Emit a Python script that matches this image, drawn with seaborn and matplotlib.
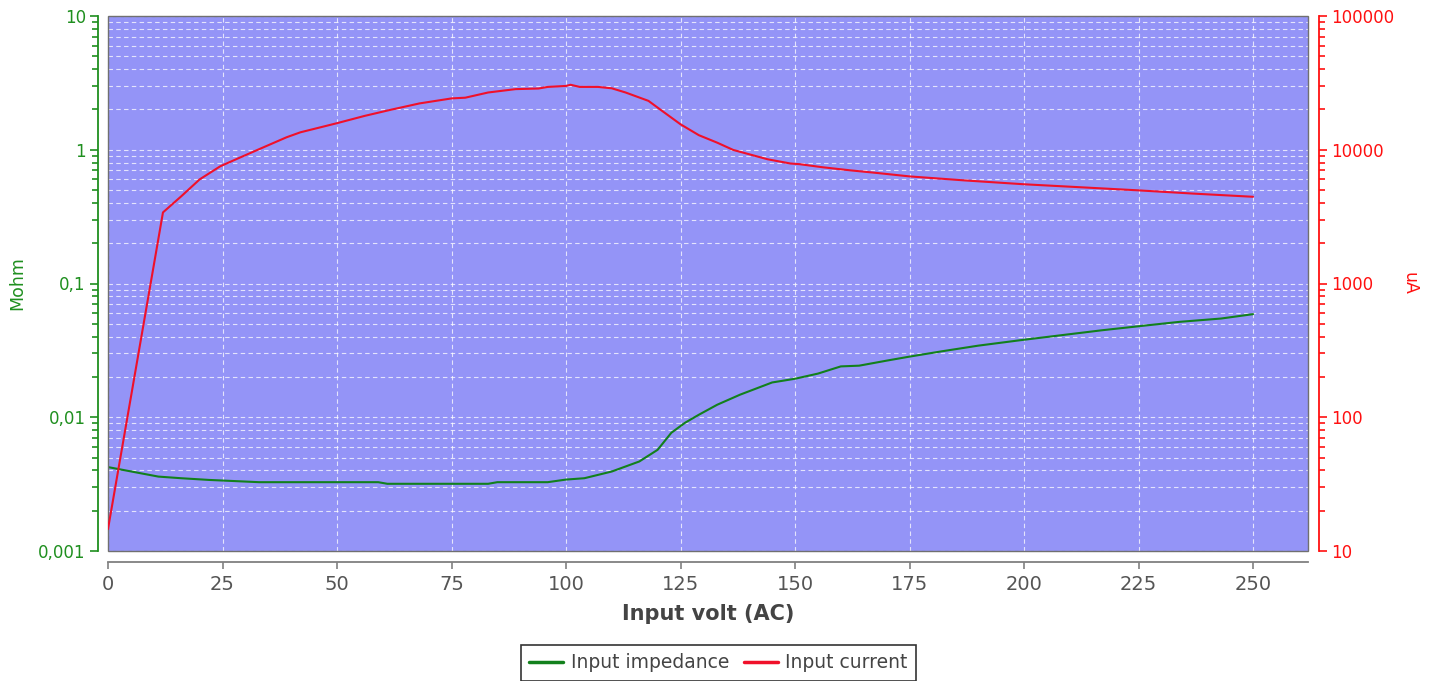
import matplotlib
matplotlib.use('Agg')
import matplotlib.pyplot as plt
import matplotlib.ticker as mticker
from matplotlib.lines import Line2D
from matplotlib.patches import Rectangle
import seaborn as sns

# -------------------------------------------------------
# Data
# -------------------------------------------------------
volt_imp = [0, 11, 16, 22, 33, 59, 61, 83, 85, 96, 100, 104, 110, 116, 120,
            123, 126, 129, 133, 138, 145, 150, 155, 160, 164, 170, 175, 182,
            190, 199, 208, 217, 225, 234, 243, 250]
imp_mohm = [0.00424, 0.0036, 0.0035, 0.0034, 0.00327, 0.00327, 0.00318,
            0.00318, 0.00327, 0.00327, 0.00342, 0.0035, 0.00393, 0.00467,
            0.00571, 0.00766, 0.0091, 0.01044, 0.0124, 0.01475, 0.0182,
            0.0194, 0.0212, 0.0240, 0.0243, 0.0265, 0.0284, 0.0311, 0.0343,
            0.0376, 0.0410, 0.0447, 0.0479, 0.0517, 0.0547, 0.0590]

volt_cur = [0, 12, 16, 20, 24.5, 28, 33, 39, 42, 50, 56, 62, 64, 68, 75, 78,
            83, 89, 94, 96, 100, 101, 103, 107, 110, 113, 118, 121, 125, 129,
            133, 136.5, 140, 144, 149, 151, 156, 162, 168, 175, 187, 200, 212,
            225, 237, 250]
cur_ua = [14.6, 3400, 4490, 6000, 7520, 8500, 10100, 12400, 13500, 15800,
          17900, 20000, 20700, 22200, 24200, 24500, 26800, 28400, 28700,
          29500, 30000, 30600, 29500, 29500, 28800, 26800, 23200, 19500,
          15500, 12850, 11300, 9970, 9250, 8490, 7890, 7800, 7400, 7020,
          6700, 6320, 5900, 5520, 5250, 4970, 4700, 4450]

x_ticks = [0, 25, 50, 75, 100, 125, 150, 175, 200, 225, 250]
left_ticks = [0.001, 0.01, 0.1, 1, 10]
left_labels = ['0,001', '0,01', '0,1', '1', '10']
right_ticks = [10, 100, 1000, 10000, 100000]
right_labels = ['10', '100', '1000', '10000', '100000']

# -------------------------------------------------------
# Style
# -------------------------------------------------------
sns.set_style('white')
plt.rcParams['font.family'] = ['DejaVu Sans']

GREEN_AX = '#1f8f1f'
GREEN_LN = '#12801c'
RED_AX = '#ff1010'
RED_LN = '#f0102a'
GRAY = '#808080'
BG = '#9494f7'

fig = plt.figure(figsize=(14.37, 6.81), dpi=100)
ax = fig.add_axes([108 / 1437, 1 - 551 / 681, 1200 / 1437, 535 / 681])
ax2 = ax.twinx()
ax.set_facecolor(BG)

sns.lineplot(x=volt_imp, y=imp_mohm, ax=ax, color=GREEN_LN, linewidth=1.5)
sns.lineplot(x=volt_cur, y=cur_ua, ax=ax2, color=RED_LN, linewidth=1.5)

# -------------------------------------------------------
# Axes scales / ticks
# -------------------------------------------------------
ax.set_xlim(0, 262)
ax.set_yscale('log')
ax.set_ylim(0.001, 10)
ax2.set_yscale('log')
ax2.set_ylim(10, 100000)

ax.xaxis.set_major_locator(mticker.FixedLocator(x_ticks))
ax.yaxis.set_major_locator(mticker.FixedLocator(left_ticks))
ax.yaxis.set_major_formatter(mticker.FixedFormatter(left_labels))
ax.yaxis.set_minor_locator(mticker.LogLocator(base=10, subs=range(2, 10)))
ax.yaxis.set_minor_formatter(mticker.NullFormatter())

ax2.yaxis.set_major_locator(mticker.FixedLocator(right_ticks))
ax2.yaxis.set_major_formatter(mticker.FixedFormatter(right_labels))
ax2.yaxis.set_minor_locator(mticker.LogLocator(base=10, subs=range(2, 10)))
ax2.yaxis.set_minor_formatter(mticker.NullFormatter())

ax.tick_params(axis='y', which='major', direction='out', length=6, width=1.2,
               color=GREEN_AX, labelcolor=GREEN_AX, labelsize=12, pad=3, left=True)
ax.tick_params(axis='y', which='minor', direction='out', length=4, width=1.2,
               color=GREEN_AX, left=True)
ax.tick_params(axis='x', which='major', direction='out', length=5, width=1.2,
               color=GRAY, labelcolor='#555555', labelsize=14, pad=4, bottom=True)
ax2.tick_params(axis='y', which='major', direction='out', length=6, width=1.2,
                color=RED_AX, labelcolor=RED_AX, labelsize=12, pad=3, right=True)
ax2.tick_params(axis='y', which='minor', direction='out', length=4, width=1.2,
                color=RED_AX, right=True)

# grid: white dashed lines
ax.grid(True, which='both', axis='y', color='white', linestyle=(0, (4, 3)),
        linewidth=0.8, alpha=0.75)
ax.grid(True, which='major', axis='x', color='white', linestyle=(0, (4, 3)),
        linewidth=0.8, alpha=0.75)

# spines: axes offset from the plot frame
for s in ['top', 'right']:
    ax.spines[s].set_visible(False)
for s in ['top', 'left', 'bottom']:
    ax2.spines[s].set_visible(False)
ax.spines['left'].set_position(('outward', 7))
ax.spines['left'].set_color(GREEN_AX)
ax.spines['left'].set_linewidth(1.3)
ax.spines['bottom'].set_position(('outward', 8))
ax.spines['bottom'].set_color(GRAY)
ax.spines['bottom'].set_linewidth(1.3)
ax2.spines['right'].set_position(('outward', 8))
ax2.spines['right'].set_color(RED_AX)
ax2.spines['right'].set_linewidth(1.3)

# plot frame
ax.add_patch(Rectangle((0, 0), 1, 1, transform=ax.transAxes, fill=False,
                       edgecolor='#707070', linewidth=1.0, clip_on=False, zorder=5))

# -------------------------------------------------------
# Labels
# -------------------------------------------------------
ax.set_xlabel('Input volt (AC)', fontsize=15, fontweight='bold', color='#444444')
ax.xaxis.set_label_coords(0.5, (551 - 614) / 535)
ax.xaxis.label.set_va('center')
ax.set_ylabel('Mohm', fontsize=12.5, color=GREEN_AX)
ax.yaxis.set_label_coords((17 - 108) / 1200, 0.5)
ax.yaxis.label.set_va('center')
ax2.set_ylabel('uA', fontsize=12.5, color=RED_AX, rotation=-90)
ax2.yaxis.set_label_coords((1410 - 108) / 1200, 0.5)
ax2.yaxis.label.set_va('center')

# -------------------------------------------------------
# Legend
# -------------------------------------------------------
handles = [Line2D([], [], color=GREEN_LN, linewidth=2.5),
           Line2D([], [], color=RED_LN, linewidth=2.5)]
leg = fig.legend(handles, ['Input impedance', 'Input current'],
                 loc='upper center', bbox_to_anchor=(0.5, 1 - 645 / 681),
                 ncol=2, frameon=True, fancybox=False, edgecolor='black',
                 fontsize=13.5, handlelength=1.8, handletextpad=0.4,
                 columnspacing=0.8, borderpad=0.45, borderaxespad=0)
leg.get_frame().set_linewidth(1.2)
for t in leg.get_texts():
    t.set_color('#444444')

fig.savefig('out.png', dpi=100)
plt.close()
